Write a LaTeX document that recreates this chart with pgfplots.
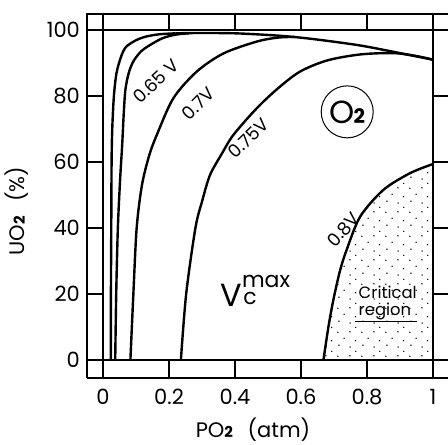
\documentclass[border=0pt]{standalone}
\usepackage{fontspec}
\setmainfont{Poppins}
\usepackage{pgfplots}
\pgfplotsset{compat=1.18}
\usetikzlibrary{patterns.meta}

\tikzdeclarepattern{
  name=sparsedots,
  type=uncolored,
  bounding box={(0pt,0pt) and (12pt,12pt)},
  tile size={(12pt,12pt)},
  code={
    \fill (1.5pt,2.0pt) circle (0.4pt);
    \fill (7.3pt,1.0pt) circle (0.4pt);
    \fill (4.2pt,5.6pt) circle (0.4pt);
    \fill (10.1pt,4.3pt) circle (0.4pt);
    \fill (1.0pt,8.7pt) circle (0.4pt);
    \fill (7.2pt,8.9pt) circle (0.4pt);
    \fill (10.2pt,11.2pt) circle (0.4pt);
  }
}
\tikzset{
  frame/.style={line width=0.6pt, black},
  curve/.style={line width=1.2pt, black, smooth},
}

\pgfplotstableread{
x y
0.024 0
0.024 20
0.025 40
0.026 60
0.028 70
0.033 80
0.041 87
0.055 92
0.070 94.9
0.100 96.9
0.130 98.0
0.170 98.7
0.220 99.0
}\curveA

\pgfplotstableread{
x y
0.037 0
0.040 20
0.045 40
0.052 55
0.058 65
0.063 75
0.068 82
0.078 87
0.092 90.5
0.115 93.5
0.140 95.3
0.180 97.5
0.220 98.6
0.260 99.0
}\curveB

\pgfplotstableread{
x y
0.083 0
0.092 20
0.102 40
0.118 53
0.140 62
0.163 68.2
0.213 79.3
0.284 87.4
0.365 92.9
0.466 96.5
0.530 97.7
0.580 97.9
}\curveC

\pgfplotstableread{
x y
0.236 0
0.252 20
0.280 40
0.300 48
0.324 56
0.360 62.5
0.395 68.2
0.466 76.3
0.530 82.3
0.597 87.4
0.680 90.8
0.780 92.6
0.880 93.0
0.950 92.1
1.000 91.0
}\curveD

\pgfplotstableread{
x y
0.668 0
0.683 10
0.698 18.2
0.718 27
0.738 33.3
0.779 43.4
0.849 51.5
0.930 56.6
1.000 59.4
}\curveE

\pgfplotstableread{
x y
0.220 99.0
0.300 99.1
0.400 99.0
0.500 98.5
0.567 98.0
0.650 97.1
0.780 95.3
0.900 93.0
1.000 91.0
}\topline

\begin{document}
\begin{tikzpicture}
\begin{axis}[
  name=ax,
  x=165pt, y=1.65pt,
  xmin=-0.0485, xmax=1.06, ymin=-5.45, ymax=104.85,
  axis line style={draw=none},
  major tick length=0pt,
  clip=false,
  xtick={0,0.2,0.4,0.6,0.8,1},
  ytick={0,20,40,60,80,100},
  xticklabels={0,0.2,0.4,0.6,0.8,1},
  yticklabels={0,20,40,60,80,100},
  /pgf/number format/assume math mode=true,
  ticklabel style={font=\fontsize{10.5}{12}\selectfont},
  xticklabel style={yshift=-2pt},
  label style={font=\fontsize{10.5}{12}\selectfont},
  xlabel={PO{\fontsize{7.5}{8}\selectfont\bfseries 2}\hspace{0.7em}(atm)},
  ylabel={UO{\fontsize{7.5}{8}\selectfont\bfseries 2}\hspace{0.7em}(\%)},
  xlabel style={at={(rel axis cs:0.4538,-0.142)}, anchor=center},
  ylabel style={at={(rel axis cs:-0.1913,0.4587)}, anchor=center},
]
% critical region fill
\addplot[draw=none, pattern=sparsedots, smooth] table {\curveE} \closedcycle;

% frame
\draw[frame] (axis cs:-0.0485,-5.45) -- (axis cs:-0.0485,104.85) -- (axis cs:1.06,104.85);
\draw[frame] (axis cs:-0.0485,-5.45) -- (axis cs:1.06,-5.45);
\draw[frame] (axis cs:-0.0485,0) -- (axis cs:1.06,0);
\draw[frame] (axis cs:-0.0485,100) -- (axis cs:1.06,100);
\draw[frame] (axis cs:0,-5.45) -- (axis cs:0,104.85);
\draw[frame] (axis cs:1,-5.45) -- (axis cs:1,104.85);
\pgfplotsinvokeforeach{0.2,0.4,0.6,0.8}{
  \draw[frame] (axis cs:#1,-5.45) -- (axis cs:#1,0);
  \draw[frame] (axis cs:#1,100) -- (axis cs:#1,104.85);
}
\pgfplotsinvokeforeach{20,40,60,80}{
  \draw[frame] (axis cs:-0.0485,#1) -- (axis cs:0,#1);
  \draw[frame] (axis cs:1,#1) -- (axis cs:1.06,#1);
}

% curves
\addplot[curve] table {\curveA};
\addplot[curve] table {\curveB};
\addplot[curve] table {\curveC};
\addplot[curve] table {\curveD};
\addplot[curve] table {\curveE};
\addplot[curve] table {\topline};

% labels
\node[rotate=43, font=\fontsize{9}{10}\selectfont] at (axis cs:0.160,84.6) {0.65 V};
\node[rotate=45, font=\fontsize{9}{10}\selectfont] at (axis cs:0.288,77.8) {0.7V};
\node[rotate=44, font=\fontsize{9}{10}\selectfont] at (axis cs:0.440,67.2) {0.75V};
\node[rotate=48, font=\fontsize{9}{10}\selectfont] at (axis cs:0.728,39.5) {0.8V};

\node[draw, circle, line width=0.5pt, minimum size=26pt, inner sep=0pt] at (axis cs:0.74,75.2)
  {\fontsize{16}{16}\selectfont O\kern-0.5pt{\fontsize{10}{10}\selectfont\bfseries 2}};

\node[anchor=base west, inner sep=0pt, font=\fontsize{16}{16}\selectfont] at (axis cs:0.354,16.2) {V};
\node[anchor=base west, inner sep=0pt, font=\fontsize{11}{11}\selectfont] at (axis cs:0.420,22.1) {max};
\node[anchor=base west, inner sep=0pt, font=\fontsize{11}{11}\selectfont] at (axis cs:0.424,16.7) {c};

\node[anchor=base west, inner sep=0pt, font=\fontsize{8.2}{9}\selectfont] at (axis cs:0.7737,18.5) {Critical};
\node[anchor=base west, inner sep=0pt, font=\fontsize{8.2}{9}\selectfont] at (axis cs:0.7737,13.4) {region};
\draw[line width=0.4pt] (axis cs:0.764,11.6) -- (axis cs:0.95,11.6);
\end{axis}
\pgfresetboundingbox
\path ([xshift=-43.5pt,yshift=-33pt]ax.south west) rectangle ([xshift=180.5pt,yshift=189pt]ax.south west);
\end{tikzpicture}
\end{document}
